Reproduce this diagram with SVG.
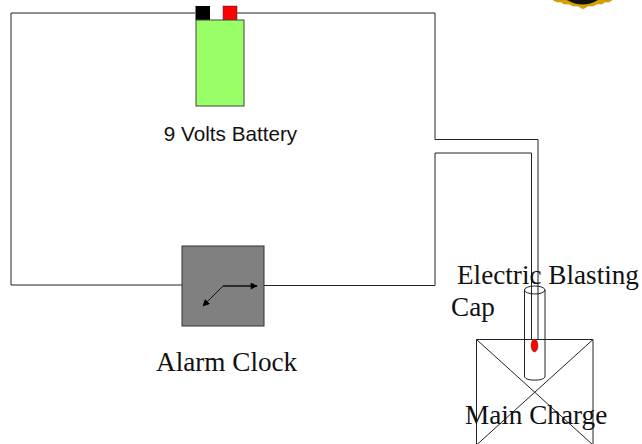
<svg xmlns="http://www.w3.org/2000/svg" width="642" height="444" viewBox="0 0 642 444">
<style>
.w{fill:none;stroke:#222;stroke-width:1}
.s{font-family:"Liberation Serif",serif;font-size:27.200px;fill:#111}
.a{font-family:"Liberation Sans",sans-serif;font-size:20.700px;fill:#111}
</style>
<defs>
<marker id="ah" viewBox="0 0 10 10" refX="9" refY="5" markerWidth="8" markerHeight="7" markerUnits="userSpaceOnUse" orient="auto"><path d="M0 0L10 5L0 10Z" fill="#000"/></marker>
</defs>
<rect width="642" height="444" fill="#fff"/>
<g id="emblem">
<path d="M553 0L557 2L561 2L564 4L569 4L573 6L578 6L583 9L588 6L593 6L597 4L602 4L605 2L609 2L612 0Z" fill="#d9a400" stroke="#b58600" stroke-width="0.500"/>
<path d="M567 0Q583 9 598 0Z" fill="#111"/>
</g>
<g id="connectors">
<path class="w" d="M195 13H11V285H182"/>
<path class="w" d="M237 13H435V139.500H538V340"/>
<path class="w" d="M264 285.500H435V153H531.500V340"/>
</g>
<g id="charge">
<path d="M476.500 339.500H593M476.500 339.500V444M593 339.500V444M476.500 339.500L593 445M593 339.500L476.500 445" class="w"/>
<text class="s" x="465" y="423.500">Main Charge</text>
</g>
<g id="blasting-cap">
<path d="M524.500 290V377A10.500 4 0 0 0 545 377V290" fill="none" stroke="#222"/>
<ellipse cx="534.700" cy="290" rx="10.300" ry="4" fill="none" stroke="#222"/>
<ellipse cx="534.500" cy="345.500" rx="3.500" ry="6.500" fill="#f00" stroke="#444" stroke-width="0.500"/>
<text class="s" x="457" y="284">Electric Blasting</text>
<text class="s" x="451" y="315.500">Cap</text>
</g>
<g id="battery">
<rect x="195.500" y="6" width="14.500" height="14" fill="#000"/>
<rect x="223" y="6" width="14" height="14" fill="#f00" stroke="#333" stroke-width="0.500"/>
<rect x="196" y="20" width="48" height="86" fill="#9f6" stroke="#444" stroke-width="1"/>
<text class="a" x="230.500" y="141" text-anchor="middle">9 Volts Battery</text>
</g>
<g id="alarm-clock">
<rect x="182" y="246" width="82" height="80" fill="#808080" stroke="#333" stroke-width="1"/>
<path d="M223 286H257" fill="none" stroke="#111" stroke-width="1.500" marker-end="url(#ah)"/>
<path d="M223 286L203 306" fill="none" stroke="#111" stroke-width="1" marker-end="url(#ah)"/>
<text class="s" x="156" y="370.500">Alarm Clock</text>
</g>
</svg>
